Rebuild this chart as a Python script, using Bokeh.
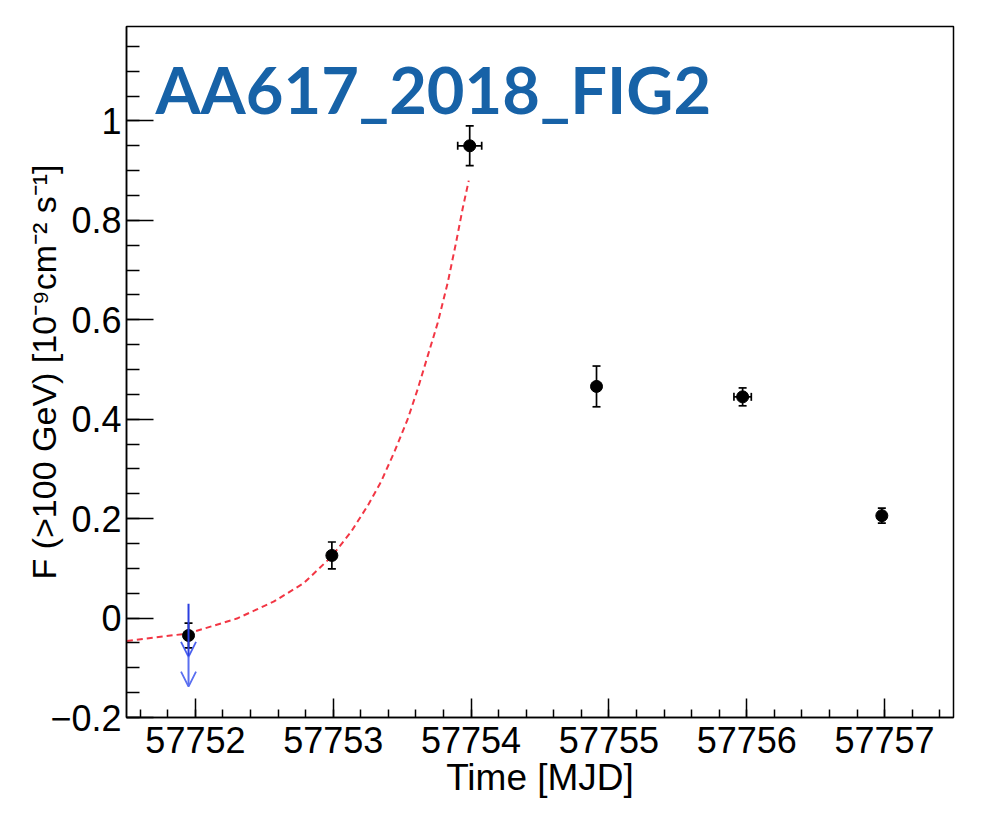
from bokeh.plotting import figure
from bokeh.models import (ColumnDataSource, Whisker, TeeHead, Arrow, OpenHead, Label,
                          SingleIntervalTicker, Range1d, CustomJSTickFormatter)
from bokeh.embed import file_html
from bokeh.resources import INLINE

# ---- data ----
t = [57751.95, 57752.99, 57753.99, 57754.91, 57755.97, 57756.98]
flux = [-0.035, 0.126, 0.950, 0.466, 0.445, 0.206]
flux_err = [0.025, 0.027, 0.040, 0.041, 0.018, 0.015]
t_err = [0.0, 0.0, 0.087, 0.0, 0.063, 0.02]

# upper limit (first night)
ul_t = [57751.95]
ul_top = [0.029]
ul_mid = [-0.078]
ul_end = [-0.138]

# exponential-rise fit curve
curve_t = [57751.503, 57751.946, 57752.301, 57752.567, 57752.785, 57752.985, 57753.128,
           57753.250, 57753.346, 57753.443, 57753.540, 57753.612, 57753.685, 57753.758,
           57753.830, 57753.890, 57753.939, 57753.983]
curve_f = [-0.046, -0.031, -0.001, 0.033, 0.070, 0.123, 0.173,
           0.226, 0.274, 0.334, 0.400, 0.460, 0.527, 0.594,
           0.674, 0.754, 0.824, 0.880]

title_text = "AA617_2018_FIG2"
x_label = "Time [MJD]"
y_label = "F (>100 GeV) [10\u207b\u2079cm\u207b\u00b2 s\u207b\u00b9]"

FONT = "Liberation Sans"

p = figure(width=976, height=800, output_backend="svg", toolbar_location=None,
           x_range=Range1d(57751.5, 57757.5), y_range=Range1d(-0.2, 1.19),
           min_border_left=126, min_border_right=23, min_border_top=26, min_border_bottom=81)
p.background_fill_color = "white"
p.border_fill_color = "white"
p.grid.visible = False
p.outline_line_color = "black"
p.outline_line_width = 1.5

# x axis
xa = p.xaxis[0]
xa.ticker = SingleIntervalTicker(interval=1, num_minor_ticks=5)
xa.formatter = CustomJSTickFormatter(code="return Math.round(tick).toString();")
xa.major_tick_in = 19
xa.major_tick_out = 0
xa.minor_tick_in = 8
xa.minor_tick_out = 0
xa.major_tick_line_width = 1.5
xa.minor_tick_line_width = 1.5
xa.axis_line_width = 1.5
xa.major_label_text_font = FONT
xa.major_label_text_font_size = "36px"
xa.major_label_text_color = "black"
xa.major_label_standoff = 9
xa.axis_label = x_label
xa.axis_label_text_font = FONT
xa.axis_label_text_font_style = "normal"
xa.axis_label_text_font_size = "37px"
xa.axis_label_text_color = "black"
xa.axis_label_standoff = 1

# y axis
ya = p.yaxis[0]
ya.ticker = SingleIntervalTicker(interval=0.2, num_minor_ticks=4)
ya.formatter = CustomJSTickFormatter(
    code="const v = Math.round(tick*100)/100; return (v < 0 ? '\\u2212' : '') + Math.abs(v).toString();")
ya.major_tick_in = 27
ya.major_tick_out = 0
ya.minor_tick_in = 13
ya.minor_tick_out = 0
ya.major_tick_line_width = 1.5
ya.minor_tick_line_width = 1.5
ya.axis_line_width = 1.5
ya.major_label_text_font = FONT
ya.major_label_text_font_size = "36px"
ya.major_label_text_color = "black"
ya.major_label_standoff = 5
ya.axis_label = y_label
ya.axis_label_text_font = FONT
ya.axis_label_text_font_style = "normal"
ya.axis_label_text_font_size = "34px"
ya.axis_label_text_color = "black"
ya.axis_label_standoff = -16

# fit curve
p.line(curve_t, curve_f, line_color="#f23644", line_width=2, line_dash="6 4")

# error bars
src = ColumnDataSource(dict(
    t=t, f=flux,
    fu=[f + e for f, e in zip(flux, flux_err)],
    fl=[f - e for f, e in zip(flux, flux_err)]))
p.add_layout(Whisker(source=src, base="t", upper="fu", lower="fl", dimension="height",
                     line_color="black", line_width=1.7,
                     upper_head=TeeHead(size=8, line_color="black", line_width=1.7),
                     lower_head=TeeHead(size=8, line_color="black", line_width=1.7)))

idx = [i for i, e in enumerate(t_err) if e > 0]
srcx = ColumnDataSource(dict(
    f=[flux[i] for i in idx],
    tu=[t[i] + t_err[i] for i in idx],
    tl=[t[i] - t_err[i] for i in idx]))
p.add_layout(Whisker(source=srcx, base="f", upper="tu", lower="tl", dimension="width",
                     line_color="black", line_width=1.7,
                     upper_head=TeeHead(size=8, line_color="black", line_width=1.7),
                     lower_head=TeeHead(size=8, line_color="black", line_width=1.7)))

# upper limit arrows
usrc = ColumnDataSource(dict(t=ul_t, top=ul_top, mid=ul_mid, end=ul_end))
p.add_layout(Arrow(source=usrc, x_start="t", y_start="mid", x_end="t", y_end="end",
                   line_color="#5a6ff0", line_width=2,
                   end=OpenHead(size=15, line_color="#5a6ff0", line_width=1.8)))
p.add_layout(Arrow(source=usrc, x_start="t", y_start="top", x_end="t", y_end="mid",
                   line_color="#2a3ee0", line_width=2,
                   end=OpenHead(size=15, line_color="#4a60ee", line_width=1.8)))

# data points
p.scatter(t, flux, size=12, marker="circle", fill_color="black", line_color="black")

# title text inside the frame
p.add_layout(Label(x=57751.71, y=1.065, text=title_text, text_font="Lato",
                   text_font_style="bold", text_font_size="65px", text_color="#1762a7",
                   text_baseline="alphabetic"))

open("out.html", "w").write(file_html(p, INLINE))
